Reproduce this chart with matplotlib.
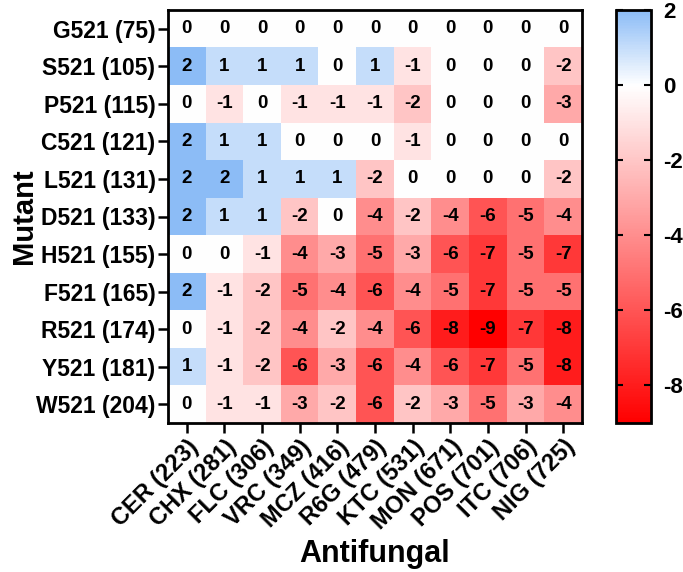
import numpy as np
import matplotlib
matplotlib.use("Agg")
import matplotlib.pyplot as plt
from matplotlib.colors import LinearSegmentedColormap

plt.rcParams['font.family'] = ['Liberation Sans', 'DejaVu Sans']
plt.rcParams['font.weight'] = 'bold'
plt.rcParams['axes.unicode_minus'] = False

mutants = ['G521 (75)', 'S521 (105)', 'P521 (115)', 'C521 (121)', 'L521 (131)',
           'D521 (133)', 'H521 (155)', 'F521 (165)', 'R521 (174)', 'Y521 (181)',
           'W521 (204)']
antifungals = ['CER (223)', 'CHX (281)', 'FLC (306)', 'VRC (349)', 'MCZ (416)',
               'R6G (479)', 'KTC (531)', 'MON (671)', 'POS (701)', 'ITC (706)',
               'NIG (725)']

# one row per mutant
G521 = [0, 0, 0, 0, 0, 0, 0, 0, 0, 0, 0]
S521 = [2, 1, 1, 1, 0, 1, -1, 0, 0, 0, -2]
P521 = [0, -1, 0, -1, -1, -1, -2, 0, 0, 0, -3]
C521 = [2, 1, 1, 0, 0, 0, -1, 0, 0, 0, 0]
L521 = [2, 2, 1, 1, 1, -2, 0, 0, 0, 0, -2]
D521 = [2, 1, 1, -2, 0, -4, -2, -4, -6, -5, -4]
H521 = [0, 0, -1, -4, -3, -5, -3, -6, -7, -5, -7]
F521 = [2, -1, -2, -5, -4, -6, -4, -5, -7, -5, -5]
R521 = [0, -1, -2, -4, -2, -4, -6, -8, -9, -7, -8]
Y521 = [1, -1, -2, -6, -3, -6, -4, -6, -7, -5, -8]
W521 = [0, -1, -1, -3, -2, -6, -2, -3, -5, -3, -4]

values = np.array([G521, S521, P521, C521, L521, D521, H521, F521, R521, Y521, W521])
cbar_ticks = [2, 0, -2, -4, -6, -8]

cmap = LinearSegmentedColormap.from_list('rwb', [(0, '#ff0000'), (9/11, '#ffffff'), (1, '#8cbcf6')])

fig = plt.figure(figsize=(6.83, 5.72), dpi=100)
ax = fig.add_axes([168/683, 1 - 423/572, (582-168)/683, (423-10)/572])
cax = fig.add_axes([616/683, 1 - 423/572, (651-616)/683, (423-10)/572])

im = ax.imshow(values, cmap=cmap, vmin=-9, vmax=2, aspect='auto', interpolation='nearest')

# value printed in every cell
for i in range(values.shape[0]):
    for j in range(values.shape[1]):
        ax.text(j, i, str(values[i, j]), ha='center', va='center',
                fontsize=13.5, fontweight='bold', color='black')

ax.set_xticks(range(len(antifungals)))
ax.set_xticklabels(antifungals, rotation=45, ha='right', rotation_mode='anchor', fontsize=17)
ax.set_yticks(range(len(mutants)))
ax.set_yticklabels(mutants, fontsize=16.5)
ax.tick_params(direction='out', length=7, width=1.8, pad=2)
for s in ax.spines.values():
    s.set_linewidth(2)
ax.set_xlabel('Antifungal', fontsize=22, fontweight='bold', labelpad=3)
ax.set_ylabel('Mutant', fontsize=21, fontweight='bold', labelpad=-1)

cb = fig.colorbar(im, cax=cax)
cb.set_ticks(cbar_ticks)
cb.outline.set_linewidth(2)
cax.tick_params(direction='in', left=True, right=True, length=5, width=1.5, labelsize=16, pad=9)

fig.savefig('out.png', dpi=100)
